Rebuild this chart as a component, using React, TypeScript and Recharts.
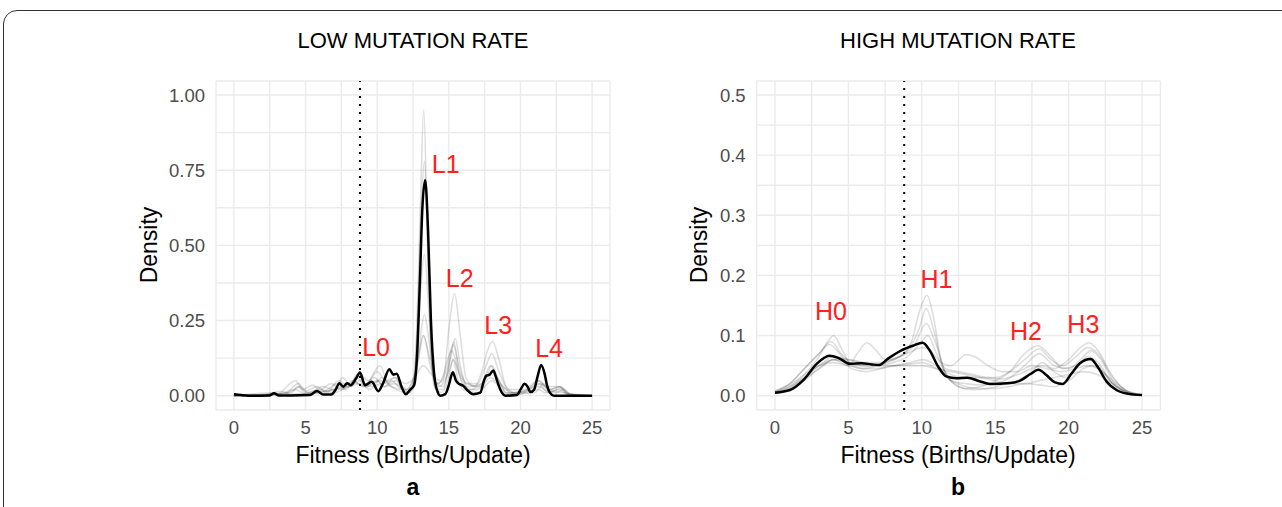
import React from 'react';
import { LineChart, Line, XAxis, YAxis, CartesianGrid, ReferenceLine, ReferenceDot } from 'recharts';

type P = [number, number];

// ---------- LOW MUTATION RATE (panel a) ----------
const lowMean: P[] = [[0,0.005],[0.5,0.002],[1,0],[2.5,0.001],[2.8,0.008],[3.1,0.001],[4,0.001],[5.3,0.002],[5.8,0.016],[6.2,0.004],[6.8,0.004],[7.1,0.02],[7.36,0.041],[7.64,0.03],[7.9,0.041],[8.15,0.035],[8.53,0.058],[8.8,0.077],[9.15,0.035],[9.62,0.046],[10.08,0.015],[10.4,0.04],[10.85,0.088],[11.13,0.07],[11.36,0.073],[11.7,0.03],[12.0,0.005],[12.3,0.02],[12.58,0.035],[12.8,0.15],[12.98,0.38],[13.15,0.62],[13.35,0.717],[13.55,0.55],[13.75,0.25],[13.98,0.07],[14.2,0.015],[14.4,0.0],[14.75,0.005],[15.0,0.035],[15.28,0.078],[15.5,0.05],[15.66,0.041],[16.0,0.033],[16.3,0.018],[16.7,0.005],[17.2,0.01],[17.45,0.05],[17.6,0.066],[17.85,0.07],[18.1,0.084],[18.3,0.06],[18.47,0.035],[18.7,0.01],[18.94,0],[19.75,0.002],[20.0,0.02],[20.29,0.04],[20.5,0.03],[20.7,0.012],[20.95,0.02],[21.2,0.065],[21.45,0.102],[21.7,0.07],[21.85,0.035],[22.05,0.01],[22.33,0],[25,0]];
const lowRep1: P[] = [[0,0],[3,0.005],[4.3,0.02],[5,0.005],[7,0.02],[8,0.03],[8.8,0.05],[9.5,0.03],[10.3,0.04],[11,0.05],[11.5,0.03],[12.25,0.01],[12.5,0.04],[12.75,0.2],[13,0.6],[13.25,0.95],[13.5,0.55],[13.75,0.15],[14,0.03],[14.5,0.01],[15,0.06],[15.3,0.12],[15.6,0.06],[16,0.02],[17,0.01],[17.5,0.03],[18,0.05],[18.5,0.03],[19,0.005],[21,0.01],[21.3,0.02],[21.7,0.01],[22.7,0.02],[23.2,0.005],[25,0]];
const lowRep2: P[] = [[0,0],[2,0.002],[3.3,0.015],[4,0.005],[5.5,0.01],[6.5,0.02],[7.2,0.04],[7.8,0.02],[8.6,0.06],[9.2,0.03],[10,0.05],[10.5,0.03],[11.2,0.06],[11.8,0.03],[12.3,0.01],[12.6,0.06],[12.85,0.3],[13.1,0.65],[13.3,0.78],[13.55,0.45],[13.8,0.12],[14.1,0.02],[14.6,0.02],[15,0.1],[15.35,0.18],[15.7,0.08],[16.2,0.02],[17,0.02],[17.6,0.06],[18,0.1],[18.4,0.06],[19,0.01],[20,0.005],[21.3,0.04],[21.7,0.02],[22.5,0.01],[23,0.02],[23.5,0.005],[25,0]];
const lowRep3: P[] = [[0,0],[4,0.01],[4.5,0.03],[5,0.01],[6,0.02],[7,0.01],[8,0.03],[8.8,0.04],[9.5,0.02],[10.3,0.06],[11,0.03],[12,0.01],[12.5,0.03],[12.9,0.15],[13.3,0.27],[13.7,0.15],[14.1,0.04],[14.6,0.05],[15,0.22],[15.4,0.34],[15.8,0.2],[16.2,0.06],[16.8,0.03],[17.3,0.08],[17.7,0.15],[18.05,0.18],[18.5,0.12],[19,0.03],[19.6,0.01],[20.5,0.02],[21.3,0.05],[22,0.02],[22.7,0.03],[23.3,0.005],[25,0]];
const lowRep4: P[] = [[0,0],[2.8,0.01],[3.5,0.005],[4.5,0.04],[5,0.015],[5.8,0.03],[6.5,0.01],[7.3,0.05],[8,0.03],[8.6,0.07],[9.2,0.04],[10.2,0.1],[10.8,0.04],[11.3,0.05],[12,0.01],[12.6,0.05],[12.95,0.3],[13.3,0.47],[13.65,0.25],[14,0.05],[14.6,0.03],[15.1,0.12],[15.45,0.19],[15.8,0.1],[16.3,0.03],[17.3,0.04],[17.9,0.1],[18.4,0.06],[19,0.01],[20.5,0.01],[21.3,0.03],[22,0.01],[22.8,0.025],[23.5,0],[25,0]];
const lowRep5: P[] = [[0,0],[3,0.005],[4.3,0.05],[4.8,0.02],[5.5,0.035],[6,0.02],[6.8,0.04],[7.5,0.02],[8.3,0.05],[9,0.03],[9.8,0.06],[10.5,0.03],[11.2,0.04],[12,0.02],[12.7,0.08],[13.2,0.2],[13.7,0.12],[14.2,0.04],[14.8,0.08],[15.3,0.17],[15.7,0.1],[16.2,0.04],[17,0.04],[17.6,0.1],[18,0.14],[18.5,0.08],[19.2,0.02],[20.3,0.02],[21.2,0.05],[21.8,0.03],[22.7,0.03],[23.4,0.005],[25,0]];
const lowRep6: P[] = [[0,0],[3.8,0.01],[4.6,0.03],[5.2,0.01],[6.2,0.03],[7,0.02],[7.6,0.06],[8.2,0.03],[8.8,0.07],[9.4,0.05],[10,0.08],[10.6,0.05],[11.2,0.06],[12,0.04],[12.6,0.06],[13.2,0.1],[13.8,0.07],[14.4,0.05],[15.2,0.15],[15.7,0.08],[16.3,0.04],[17.2,0.03],[17.9,0.06],[18.5,0.04],[19.5,0.01],[21,0.03],[21.4,0.04],[22,0.02],[22.8,0.03],[23.5,0.005],[25,0]];
const lowRep7: P[] = [[0,0],[5,0.005],[6.5,0.015],[7.5,0.03],[8.4,0.045],[9.2,0.03],[10.2,0.05],[11,0.03],[12,0.02],[12.8,0.1],[13.25,0.2],[13.7,0.1],[14.3,0.03],[15,0.08],[15.3,0.12],[15.8,0.06],[16.5,0.02],[17.5,0.05],[18,0.08],[18.5,0.05],[19.3,0.01],[21.2,0.02],[21.6,0.04],[22,0.02],[23,0.01],[25,0]];
const lowReps: P[][] = [lowRep1, lowRep2, lowRep3, lowRep4, lowRep5, lowRep6, lowRep7];
const lowLabels = [
  { text: 'L0', x: 9.92, y: 0.16 },
  { text: 'L1', x: 14.78, y: 0.771 },
  { text: 'L2', x: 15.76, y: 0.39 },
  { text: 'L3', x: 18.45, y: 0.235 },
  { text: 'L4', x: 22.0, y: 0.159 },
];
const lowYTicks = [0, 0.125, 0.25, 0.375, 0.5, 0.625, 0.75, 0.875, 1.0];

// ---------- HIGH MUTATION RATE (panel b) ----------
const highMean: P[] = [[0,0.005],[1.02,0.0095],[1.93,0.026],[2.84,0.053],[3.7,0.0666],[4.31,0.063],[5.1,0.053],[5.9,0.054],[6.6,0.052],[7.1,0.051],[7.72,0.062],[8.58,0.075],[9.39,0.083],[10.05,0.088],[10.52,0.076],[11.1,0.049],[11.67,0.032],[12.35,0.029],[13.1,0.03],[13.94,0.024],[14.65,0.0195],[16.0,0.021],[16.7,0.025],[17.4,0.036],[17.94,0.043],[18.5,0.034],[19.07,0.022],[19.6,0.0195],[20.2,0.037],[20.77,0.054],[21.5,0.061],[21.95,0.049],[22.6,0.023],[23.28,0.009],[24.07,0.003],[25,0.001]];
const highRep1: P[] = [[0,0.008],[1,0.02],[2,0.045],[3,0.07],[3.8,0.09],[4.5,0.07],[5.5,0.05],[6.5,0.05],[7.5,0.055],[8.5,0.065],[9.3,0.09],[9.9,0.145],[10.35,0.167],[10.8,0.13],[11.3,0.06],[12,0.025],[13,0.02],[14,0.018],[15,0.02],[16,0.03],[17,0.05],[18,0.07],[19,0.05],[20,0.045],[21,0.065],[21.5,0.075],[22.2,0.06],[23,0.025],[24,0.006],[25,0.001]];
const highRep2: P[] = [[0,0.006],[1,0.015],[2,0.035],[3,0.065],[3.6,0.09],[4.0,0.1],[4.5,0.08],[5.2,0.05],[6,0.045],[7,0.05],[8,0.06],[9,0.075],[9.8,0.11],[10.3,0.145],[10.8,0.11],[11.4,0.05],[12.2,0.02],[13,0.012],[14,0.015],[15,0.025],[16,0.04],[17,0.07],[17.9,0.083],[18.8,0.065],[19.6,0.045],[20.5,0.05],[21.3,0.06],[22,0.05],[23,0.02],[24,0.005],[25,0.001]];
const highRep3: P[] = [[0,0.005],[1,0.012],[2,0.03],[3,0.05],[4,0.06],[5,0.05],[5.6,0.07],[6.25,0.088],[6.9,0.075],[7.5,0.06],[8.5,0.065],[9.5,0.085],[10.3,0.12],[10.9,0.09],[11.6,0.045],[12.5,0.04],[13.5,0.035],[14.5,0.03],[15.5,0.028],[16.5,0.035],[17.5,0.045],[18.2,0.05],[19,0.045],[20,0.06],[20.8,0.08],[21.4,0.088],[22,0.075],[22.8,0.04],[23.8,0.01],[25,0.001]];
const highRep4: P[] = [[0,0.005],[1,0.015],[2,0.03],[3,0.05],[4,0.065],[5,0.06],[6,0.055],[7,0.055],[8,0.06],[9,0.07],[10,0.08],[10.6,0.075],[11.3,0.055],[12,0.05],[13,0.068],[13.6,0.065],[14.5,0.05],[15.5,0.04],[16.5,0.04],[17.5,0.05],[18.5,0.045],[19.5,0.04],[20.5,0.045],[21.3,0.05],[22,0.045],[23,0.025],[24,0.008],[25,0.002]];
const highRep5: P[] = [[0,0.004],[1,0.01],[2,0.025],[3,0.045],[4,0.06],[5,0.055],[6,0.05],[7,0.05],[8,0.055],[9,0.065],[10,0.09],[10.4,0.1],[11,0.07],[11.8,0.03],[12.5,0.015],[13.5,0.01],[14.5,0.012],[15.5,0.018],[16.5,0.025],[17.5,0.04],[18.2,0.055],[19,0.04],[19.8,0.03],[20.6,0.05],[21.3,0.065],[22,0.055],[23,0.02],[24,0.005],[25,0.001]];
const highRep6: P[] = [[0,0.006],[1,0.018],[2,0.035],[3,0.05],[4,0.055],[5,0.05],[6,0.045],[7,0.045],[8,0.05],[9,0.05],[10,0.05],[11,0.045],[12,0.04],[13,0.035],[14,0.03],[15,0.025],[16,0.02],[17,0.02],[18,0.025],[19,0.03],[20,0.035],[21,0.04],[22,0.035],[23,0.02],[24,0.006],[25,0.001]];
const highRep7: P[] = [[0,0.007],[1,0.02],[2,0.045],[3,0.07],[3.7,0.085],[4.4,0.07],[5.2,0.045],[6.2,0.04],[7.2,0.045],[8.2,0.05],[9.2,0.055],[10.1,0.06],[11,0.05],[12,0.035],[13,0.03],[14,0.03],[15,0.03],[16,0.04],[17,0.06],[18,0.078],[18.8,0.06],[19.6,0.05],[20.5,0.065],[21.3,0.08],[22,0.07],[23,0.03],[24,0.008],[25,0.001]];
const highRep8: P[] = [[0,0.005],[1,0.012],[2,0.028],[3,0.045],[4,0.06],[5,0.06],[6,0.055],[7,0.05],[8,0.05],[9,0.052],[10,0.055],[11,0.045],[12,0.025],[13,0.015],[14,0.012],[15,0.012],[16,0.015],[17,0.02],[18,0.018],[19,0.015],[20,0.025],[21,0.045],[21.6,0.05],[22.3,0.04],[23,0.02],[24,0.005],[25,0.001]];
const highReps: P[][] = [highRep1, highRep2, highRep3, highRep4, highRep5, highRep6, highRep7, highRep8];
const highLabels = [
  { text: 'H0', x: 3.81, y: 0.141 },
  { text: 'H1', x: 11.0, y: 0.194 },
  { text: 'H2', x: 17.1, y: 0.108 },
  { text: 'H3', x: 21.0, y: 0.119 },
];
const highYTicks = [0, 0.05, 0.1, 0.15, 0.2, 0.25, 0.3, 0.35, 0.4, 0.45, 0.5];

const xTicks = [0, 2.5, 5, 7.5, 10, 12.5, 15, 17.5, 20, 22.5, 25];
const threshold = 8.8;

const FONT = '"Liberation Sans", Arial, Helvetica, sans-serif';

const toObj = (pts: P[]) => pts.map(([x, y]) => ({ x, y }));

type PanelProps = {
  left: number;
  width: number;
  margin: { top: number; right: number; bottom: number; left: number };
  yDomain: [number, number];
  yTicks: number[];
  yFmt: (v: number) => string;
  mean: P[];
  reps: P[][];
  labels: { text: string; x: number; y: number }[];
};

function Panel(p: PanelProps) {
  return (
    <div style={{ position: 'absolute', left: p.left, top: 0 }}>
      <LineChart width={p.width} height={507} margin={p.margin}>
        <CartesianGrid stroke="#ebebeb" strokeWidth={1.4} />
        <XAxis
          dataKey="x"
          type="number"
          domain={[-1.25, 26.25]}
          ticks={xTicks}
          interval={0}
          allowDataOverflow
          axisLine={false}
          tickLine={false}
          tickSize={6}
          tickMargin={5}
          height={40}
          tick={{ fill: '#4d4d4d', fontSize: 18.5, fontFamily: FONT }}
          tickFormatter={(v: number) => (v % 5 === 0 ? String(v) : '')}
        />
        <YAxis
          type="number"
          domain={p.yDomain}
          ticks={p.yTicks}
          interval={0}
          allowDataOverflow
          axisLine={false}
          tickLine={false}
          tickSize={6}
          tickMargin={5}
          width={60}
          tick={{ fill: '#4d4d4d', fontSize: 18.5, fontFamily: FONT }}
          tickFormatter={p.yFmt}
        />
        {p.reps.map((r, i) => (
          <Line
            key={i}
            data={toObj(r)}
            dataKey="y"
            type="monotone"
            stroke="#000"
            strokeOpacity={0.13}
            strokeWidth={1.6}
            dot={false}
            activeDot={false}
            isAnimationActive={false}
          />
        ))}
        <ReferenceLine x={threshold} stroke="#000" strokeWidth={2} strokeDasharray="2 6" />
        <Line
          data={toObj(p.mean)}
          dataKey="y"
          type="monotone"
          stroke="#000"
          strokeWidth={2.5}
          dot={false}
          activeDot={false}
          isAnimationActive={false}
        />
        {p.labels.map((l) => (
          <ReferenceDot
            key={l.text}
            x={l.x}
            y={l.y}
            r={0}
            fill="none"
            stroke="none"
            ifOverflow="visible"
            label={{ value: l.text, position: 'center', fill: '#ff2020', fontSize: 25, fontFamily: FONT }}
          />
        ))}
      </LineChart>
    </div>
  );
}

function Txt(props: { children: string; cx: number; cy: number; size: number; bold?: boolean; rotate?: boolean }) {
  return (
    <div
      style={{
        position: 'absolute',
        left: props.cx,
        top: props.cy,
        transform: 'translate(-50%, -50%)' + (props.rotate ? ' rotate(-90deg)' : ''),
        fontFamily: FONT,
        fontSize: props.size,
        fontWeight: props.bold ? 'bold' : 'normal',
        lineHeight: 1,
        whiteSpace: 'nowrap',
        color: '#000',
      }}
    >
      {props.children}
    </div>
  );
}

export default function App() {
  const fmtLow = (v: number) => (Math.abs(v * 4 - Math.round(v * 4)) < 1e-6 ? v.toFixed(2) : '');
  const fmtHigh = (v: number) => (Math.abs(v * 10 - Math.round(v * 10)) < 1e-6 ? v.toFixed(1) : '');
  return (
    <div style={{ position: 'absolute', left: 0, top: 0, width: 1282, height: 507, overflow: 'hidden', background: '#fff' }}>
      <div
        style={{
          position: 'absolute',
          left: 3,
          top: 10,
          width: 1300,
          height: 530,
          border: '1.5px solid #333',
          borderRadius: 14,
          boxSizing: 'border-box',
        }}
      />
      <Panel
        left={0}
        width={640}
        margin={{ top: 81, right: 30, bottom: 57, left: 156 }}
        yDomain={[-0.0476, 1.0466]}
        yTicks={lowYTicks}
        yFmt={fmtLow}
        mean={lowMean}
        reps={lowReps}
        labels={lowLabels}
      />
      <Panel
        left={640}
        width={642}
        margin={{ top: 81, right: 121.6, bottom: 57, left: 56.65 }}
        yDomain={[-0.0238, 0.5233]}
        yTicks={highYTicks}
        yFmt={fmtHigh}
        mean={highMean}
        reps={highReps}
        labels={highLabels}
      />
      <Txt cx={413} cy={41} size={22}>LOW MUTATION RATE</Txt>
      <Txt cx={958} cy={41} size={22}>HIGH MUTATION RATE</Txt>
      <Txt cx={149} cy={245} size={23} rotate>Density</Txt>
      <Txt cx={699} cy={245} size={23} rotate>Density</Txt>
      <Txt cx={413} cy={455} size={23}>Fitness (Births/Update)</Txt>
      <Txt cx={958} cy={455} size={23}>Fitness (Births/Update)</Txt>
      <Txt cx={413} cy={487} size={23} bold>a</Txt>
      <Txt cx={958} cy={487} size={23} bold>b</Txt>
    </div>
  );
}
